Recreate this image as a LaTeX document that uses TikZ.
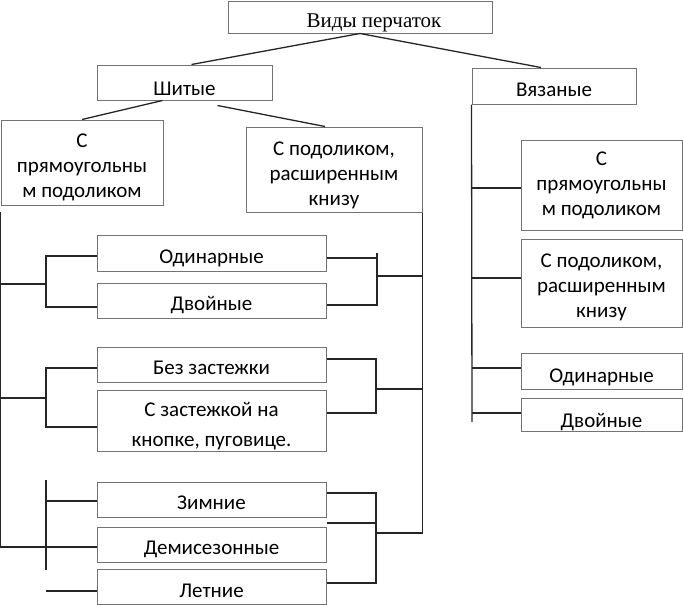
\documentclass[tikz,border=0pt]{standalone}
\usepackage{fontspec}
\setmainfont{Carlito}
\newfontfamily\serifrm{Liberation Serif}
\usetikzlibrary{calc}

\newcommand{\rows}[1]{\begin{tabular}[b]{@{}c@{}}#1\end{tabular}}
\tikzset{
  box/.style={draw=black!55,line width=1pt,inner sep=0pt,text depth=0pt,text height=#1,
    font=\fontsize{21}{25}\selectfont},
  box/.default=20pt,
  wh/.style 2 args={minimum width=#1,minimum height=#2},
  link/.style={draw=black!85,line width=1.3pt}
}

\begin{document}
\begin{tikzpicture}[x=1pt,y=-1pt]
  \useasboundingbox (0,0) rectangle (683,605);
  % top levels
  \node[box=21pt,wh={264}{32}] (vid) at (360,17) {\serifrm\hspace*{28pt}Виды перчаток};
  \node[box=25pt,wh={175}{35}] (shit) at (184.5,82.5) {Шитые};
  \node[box,wh={164}{36}] (vyaz) at (554,86) {Вязаные};
  \node[box=69pt,wh={162}{85}] (lpryam) at (82,162.5) {\rows{С\\прямоугольны\\м подоликом}};
  \node[box=71pt,wh={176}{85}] (lpod) at (334,169.5) {\rows{С подоликом,\\расширенным\\книзу}};
  % knitted
  \node[box=60pt,wh={161}{90}] (rpryam) at (601.5,185) {\rows{С\\прямоугольны\\м подоликом}};
  \node[box=68pt,wh={161}{88}] (rpod) at (601.5,283) {\rows{С подоликом,\\расширенным\\книзу}};
  \node[box=22pt,wh={161}{36}] (rodin) at (601.5,371) {Одинарные};
  \node[box=25pt,wh={161}{33}] (rdvoj) at (601.5,414.5) {Двойные};
  % sewn, middle column
  \node[box,wh={229}{36}] (odin) at (211.5,253) {Одинарные};
  \node[box=19pt,wh={229}{35}] (dvoj) at (211.5,300.5) {Двойные};
  \node[box=19pt,wh={229}{35}] (bez) at (211.5,364.5) {Без застежки};
  \node[box=51pt,wh={229}{61}] (szast) at (211.5,420.5) {\rows{С застежкой на\\[5pt]кнопке, пуговице.}};
  \node[box=19pt,wh={229}{35}] (zim) at (211.5,499.5) {Зимние};
  \node[box=19pt,wh={229}{35}] (demi) at (211.5,544.5) {Демисезонные};
  \node[box=21pt,wh={229}{35}] (let) at (211.5,586.5) {Летние};

  % upper links
  \draw[link] (vid.south) -- ([xshift=7pt]shit.north);
  \draw[link] (vid.south) -- ([xshift=-13pt]vyaz.north);
  \draw[link] ([xshift=-22pt]shit.south) -- (lpryam.north);
  \draw[link] ([xshift=33pt,yshift=-5pt]shit.south) -- ([xshift=-9pt]lpod.north);

  % left spine and brackets
  \coordinate (l1) at (46,284); \coordinate (l2) at (46,398);
  \coordinate (l3a) at (46,480); \coordinate (l3b) at (46,570);
  \coordinate (z3) at ([yshift=-1.5pt]zim.west);
  \draw[link] ([yshift=-6pt]lpryam.south west) |- ([yshift=-2.5pt]demi.west);
  \draw[link] ([yshift=-3pt]odin.west) -| (l1) |- ([yshift=-6.5pt]dvoj.west);
  \draw[link] ([yshift=-3.5pt]bez.west) -| (l2) |- ([yshift=-6.5pt]szast.west);
  \draw[link] (lpryam.west |- l1) -- (l1) (lpryam.west |- l2) -- (l2);
  \draw[link] (l3a) -- (l3b);
  \draw[link] (z3) -- (l3a |- z3);
  \draw[link] ([yshift=-4.5pt]let.west) -- +(-51,0);

  % right spine and brackets
  \coordinate (r1) at (377,276); \coordinate (r2) at (376,389); \coordinate (r3) at (376,533);
  \coordinate (d3) at ([yshift=21.5pt]demi.east);
  \draw[link] ([yshift=-5pt]odin.east) -| (r1) |- ([yshift=-4.5pt]dvoj.east);
  \draw[link] (r1) -- ++(0,-23);
  \draw[link] ([yshift=5.5pt]bez.east) -| (r2) |- ([yshift=7.5pt]szast.east);
  \draw[link] ([yshift=6.5pt]zim.east) -| (r3) |- ([yshift=3.5pt]let.east);
  \draw[link] (d3) -- (r3 |- d3);
  \draw[link] (lpod.south east) -- (lpod.east |- r3) -- (r3);
  \draw[link] (r1) -- (lpod.east |- r1) (r2) -- (lpod.east |- r2);

  % knitted spine
  \coordinate (vend) at (472,422);
  \draw[link] (vyaz.south west) -- (vend);
  \foreach \n/\dy in {rpryam/-3,rpod/5,rodin/3,rdvoj/1.5}
    \draw[link] ([yshift=\dy pt]\n.west) -- +(-49,0);
\end{tikzpicture}
\end{document}
